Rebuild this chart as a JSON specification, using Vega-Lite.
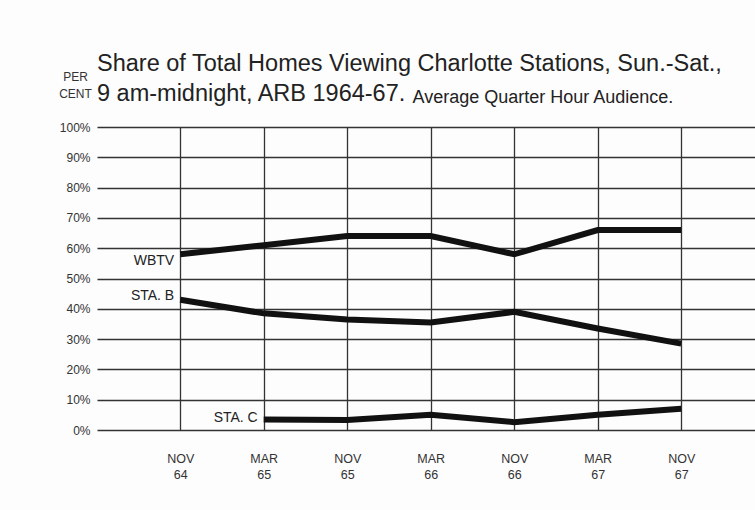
{
  "$schema": "https://vega.github.io/schema/vega-lite/v6.json",
  "width": 658,
  "height": 303,
  "autosize": {"type": "none"},
  "padding": {"left": 97, "top": 127, "right": 0, "bottom": 80},
  "background": "#fdfdfd",
  "config": {"view": {"stroke": null}, "font": "Liberation Sans"},
  "title": {
    "text": ["Share of Total Homes Viewing Charlotte Stations, Sun.-Sat.,", "9 am-midnight, ARB 1964-67."],
    "anchor": "start",
    "frame": "group",
    "fontSize": 23.5,
    "fontWeight": "normal",
    "lineHeight": 30,
    "color": "#222",
    "offset": 20,
    "dy": 55,
    "font": "Liberation Sans"
  },
  "data": {
    "values": [
      {"series": "WBTV", "month": "NOV 64", "share": 58},
      {"series": "WBTV", "month": "MAR 65", "share": 61},
      {"series": "WBTV", "month": "NOV 65", "share": 64},
      {"series": "WBTV", "month": "MAR 66", "share": 64},
      {"series": "WBTV", "month": "NOV 66", "share": 58},
      {"series": "WBTV", "month": "MAR 67", "share": 66},
      {"series": "WBTV", "month": "NOV 67", "share": 66},
      {"series": "STA. B", "month": "NOV 64", "share": 43},
      {"series": "STA. B", "month": "MAR 65", "share": 38.5},
      {"series": "STA. B", "month": "NOV 65", "share": 36.5},
      {"series": "STA. B", "month": "MAR 66", "share": 35.5},
      {"series": "STA. B", "month": "NOV 66", "share": 39},
      {"series": "STA. B", "month": "MAR 67", "share": 33.5},
      {"series": "STA. B", "month": "NOV 67", "share": 28.5},
      {"series": "STA. C", "month": "MAR 65", "share": 3.5},
      {"series": "STA. C", "month": "NOV 65", "share": 3.3},
      {"series": "STA. C", "month": "MAR 66", "share": 5},
      {"series": "STA. C", "month": "NOV 66", "share": 2.6},
      {"series": "STA. C", "month": "MAR 67", "share": 5},
      {"series": "STA. C", "month": "NOV 67", "share": 7}
    ]
  },
  "encoding": {
    "x": {
      "field": "month",
      "type": "nominal",
      "sort": ["NOV 64", "MAR 65", "NOV 65", "MAR 66", "NOV 66", "MAR 67", "NOV 67"],
      "scale": {"type": "point", "padding": 0.94, "align": 0.53},
      "axis": {
        "title": null,
        "labelAngle": 0,
        "labelExpr": "split(datum.label, ' ')",
        "labelLineHeight": 16,
        "labelBaseline": "top",
        "labelPadding": 22,
        "labelFontSize": 12.5,
        "labelColor": "#333",
        "grid": true,
        "gridColor": "#333",
        "gridWidth": 1.3,
        "ticks": false,
        "domain": false
      }
    },
    "y": {
      "field": "share",
      "type": "quantitative",
      "scale": {"domain": [0, 100], "nice": false},
      "axis": {
        "values": [0, 10, 20, 30, 40, 50, 60, 70, 80, 90, 100],
        "labelExpr": "datum.value + '%'",
        "labelFontSize": 12,
        "labelColor": "#333",
        "labelPadding": 7,
        "grid": true,
        "gridColor": "#333",
        "gridWidth": 1.3,
        "ticks": false,
        "domain": false,
        "title": ["PER", "CENT"],
        "titleAngle": 0,
        "titleX": -22,
        "titleY": -47,
        "titleAlign": "center",
        "titleBaseline": "alphabetic",
        "titleFontSize": 12,
        "titleFontWeight": "normal",
        "titleLineHeight": 17,
        "titleColor": "#333"
      }
    }
  },
  "layer": [
    {
      "mark": {"type": "line", "strokeWidth": 6, "color": "#111", "strokeCap": "butt"},
      "encoding": {"detail": {"field": "series"}}
    },
    {
      "transform": [
        {"window": [{"op": "row_number", "as": "rn"}], "groupby": ["series"]},
        {"filter": "datum.rn == 1"}
      ],
      "mark": {
        "type": "text",
        "align": "right",
        "baseline": "middle",
        "dx": -6,
        "dy": {"expr": "datum.series == 'WBTV' ? 7 : (datum.series == 'STA. B' ? -4 : -1)"},
        "fontSize": 14,
        "color": "#222"
      },
      "encoding": {
        "x": {
          "field": "month",
          "type": "nominal",
          "sort": ["NOV 64", "MAR 65", "NOV 65", "MAR 66", "NOV 66", "MAR 67", "NOV 67"],
          "axis": {
            "orient": "top",
            "labels": false,
            "ticks": false,
            "domain": false,
            "grid": false,
            "title": "Average Quarter Hour Audience.",
            "titleX": 315,
            "titleY": -25,
            "titleAlign": "left",
            "titleBaseline": "alphabetic",
            "titleFontSize": 18,
            "titleFontWeight": "normal",
            "titleColor": "#222"
          }
        },
        "text": {"field": "series"}
      }
    }
  ],
  "resolve": {"axis": {"x": "independent"}}
}
